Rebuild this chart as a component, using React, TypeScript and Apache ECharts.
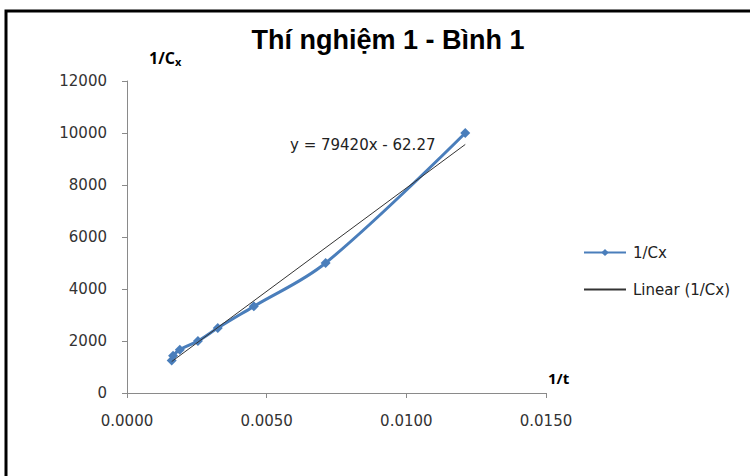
import React, { useEffect, useRef } from "react";
import * as echarts from "echarts";

const TITLE = "Thí nghiệm 1 - Bình 1";
const X_VALUES = [0.0016, 0.00165, 0.00189, 0.00254, 0.00325, 0.00454, 0.00711, 0.01211];
const Y_VALUES = [1250, 1429, 1667, 2000, 2500, 3333, 5000, 10000];
const SERIES_NAME = "1/Cx";
const TREND_NAME = "Linear (1/Cx)";
// trend line end points as drawn in the picture
const TREND_X = [0.0016, 0.01211];
const TREND_Y = [1209, 9560];
const EQUATION = "y = 79420x - 62.27";
const X_TICKS = [0, 0.005, 0.01, 0.015];
const Y_TICKS = [0, 2000, 4000, 6000, 8000, 10000, 12000];

const FONT = "'DejaVu Sans', 'Open Sans', sans-serif";
const BLUE = "#4a7ebb";

export default function App() {
  const ref = useRef<HTMLDivElement>(null);
  useEffect(() => {
    if (!ref.current) return;
    const chart = echarts.init(ref.current, null, { renderer: "svg" });
    const data = X_VALUES.map((x, i) => [x, Y_VALUES[i]]);
    const trend = TREND_X.map((x, i) => [x, TREND_Y[i]]);
    chart.setOption({
      animation: false,
      backgroundColor: "#fff",
      textStyle: { fontFamily: FONT },
      title: {
        text: TITLE,
        left: 383,
        top: 21,
        textAlign: "center",
        textStyle: { fontFamily: "'Liberation Sans', Arial, sans-serif", fontWeight: "bold", fontSize: 27, color: "#000" },
      },
      grid: { left: 127, right: 204, top: 81, bottom: 83, containLabel: false },
      legend: {
        orient: "vertical",
        left: 583,
        top: 245,
        padding: 0,
        itemWidth: 42,
        itemHeight: 9,
        itemGap: 22,
        textStyle: { fontFamily: FONT, fontSize: 15, color: "#222", padding: [0, 0, 0, 2] },
        data: [
          { name: SERIES_NAME },
          { name: TREND_NAME, itemStyle: { color: "transparent", borderWidth: 0, opacity: 0 } },
        ],
      },
      xAxis: {
        type: "value",
        min: X_TICKS[0],
        max: X_TICKS[X_TICKS.length - 1],
        interval: X_TICKS[1] - X_TICKS[0],
        name: "1/t",
        nameLocation: "end",
        nameGap: 2,
        nameTextStyle: { fontFamily: "'Open Sans', sans-serif", fontWeight: "bold", fontSize: 15, color: "#000", verticalAlign: "bottom", padding: [0, 0, 8, 0] },
        axisLine: { show: true, lineStyle: { color: "#8a8a8a" } },
        axisTick: { show: true, inside: false, length: 5, lineStyle: { color: "#8a8a8a" } },
        axisLabel: { margin: 20, fontSize: 15, color: "#333", fontFamily: FONT, formatter: (v: number) => v.toFixed(4) },
        splitLine: { show: false },
      },
      yAxis: {
        type: "value",
        min: Y_TICKS[0],
        max: Y_TICKS[Y_TICKS.length - 1],
        interval: Y_TICKS[1] - Y_TICKS[0],
        name: "1/C{sub|x}",
        nameLocation: "end",
        nameGap: 14,
        nameTextStyle: {
          fontFamily: "'Open Sans', sans-serif",
          fontWeight: "bold",
          fontSize: 16,
          color: "#000",
          align: "left",
          padding: [0, 0, 0, 22],
          rich: { sub: { fontFamily: "'Open Sans', sans-serif", fontWeight: "bold", fontSize: 11, color: "#000", padding: [8, 0, 0, 0] } },
        },
        axisLine: { show: true, lineStyle: { color: "#8a8a8a" } },
        axisTick: { show: true, inside: false, length: 5, lineStyle: { color: "#8a8a8a" } },
        axisLabel: { margin: 20, fontSize: 15, color: "#333", fontFamily: FONT, formatter: (v: number) => String(v) },
        splitLine: { show: false },
      },
      series: [
        {
          name: SERIES_NAME,
          type: "line",
          data,
          smooth: 0.35,
          symbol: "diamond",
          symbolSize: 10,
          lineStyle: { color: BLUE, width: 3 },
          itemStyle: { color: BLUE },
          z: 3,
        },
        {
          name: TREND_NAME,
          type: "line",
          data: trend,
          symbol: "none",
          lineStyle: { color: "#333", width: 1 },
          itemStyle: { color: "#333" },
          z: 4,
        },
      ],
      graphic: [
        {
          type: "rect",
          shape: { x: 6, y: 11, width: 800, height: 600 },
          style: { fill: "none", stroke: "#000", lineWidth: 3 },
          silent: true,
        },
        {
          type: "text",
          x: 290,
          y: 145,
          style: { text: EQUATION, font: `15px ${FONT}`, fill: "#222", textVerticalAlign: "middle" },
        },
      ],
    });
    return () => chart.dispose();
  }, []);
  return <div ref={ref} style={{ position: "absolute", left: 0, top: 0, width: 750, height: 476 }} />;
}
